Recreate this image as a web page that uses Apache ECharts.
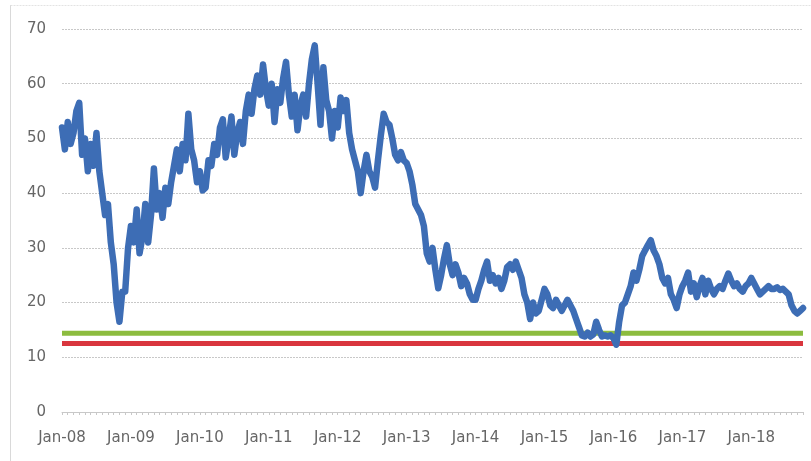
<!DOCTYPE html>
<html>
<head>
<meta charset="utf-8">
<script src="https://cdn.jsdelivr.net/npm/echarts@6/dist/echarts.min.js"></script>
<style>html,body{margin:0;padding:0;background:#fff;}#c{width:811px;height:461px;}</style>
</head>
<body>
<div id="c"></div>
<script>
// Semi-monthly observations, Jan 2008 .. Oct 2018 (two points per month)
const values2008 = [52,48, 53,49, 51,55, 56.5,47, 50,44, 49,45, 51,44, 40,36, 38,31, 27,20, 16.5,22, 22,30];
const values2009 = [34,31, 37,29, 32,38, 31,36, 44.5,37, 40,35.5, 41,38, 42,45, 48,44, 49,46, 54.5,48, 46,42];
const values2010 = [44,40.5, 41,46, 45,49, 47,52, 53.5,46.5, 50,54, 47,51, 53,49, 55,58, 54.5,59, 61.5,58, 63.5,59];
const values2011 = [56,60, 53,59, 56.5,61, 64,58, 54,58, 51.5,56, 58,54, 60,64.5, 67,60, 52.5,63, 57,55, 50,55];
const values2012 = [52,57.5, 55,57, 51,48, 46,44, 40,44, 47,44, 43,41, 46,50.5, 54.5,53, 52.5,50, 47,46, 47.5,46];
const values2013 = [45.5,44, 41.5,38, 37,36, 34,29, 27.5,30, 26,22.6, 25,28, 30.5,27, 25,27, 25.5,23, 24.5,23.5, 21.5,20.5];
const values2014 = [20.5,22.5, 24,26, 27.5,24, 25,23.5, 24.5,22.5, 24,26.5, 27,26, 27.5,26, 24.5,21.5, 20,17, 20,18, 18.5,20.5];
const values2015 = [22.5,21.5, 19.5,19, 20.5,19.5, 18.5,19.5, 20.5,19.5, 18.5,17, 15.5,14, 13.8,14.5, 13.8,14.2, 16.5,15, 13.8,14, 13.8,14];
const values2016 = [13.5,12.3, 16.5,19.5, 20,21.5, 23,25.5, 24,26, 28.5,29.5, 30.5,31.4, 29.5,28.5, 27,24.5, 23.5,24.5, 21.5,20.5, 19,21.5];
const values2017 = [23,24, 25.5,22, 23.5,21, 23,24.5, 21.5,24, 22.5,21.5, 22.5,23, 22.5,24, 25.3,24, 23,23.5, 22.5,22, 23,23.5];
const values2018 = [24.5,23.5, 22.5,21.5, 22,22.5, 23,22.5, 22.5,22.8, 22.3,22.5, 22,21.5, 19.5,18.5, 18,18.5, 19];

const priceValues = [].concat(values2008, values2009, values2010, values2011, values2012,
  values2013, values2014, values2015, values2016, values2017, values2018);

const greenLevel = 14.4;
const redLevel = 12.5;

const yearTickLabels = ['Jan-08','Jan-09','Jan-10','Jan-11','Jan-12','Jan-13','Jan-14','Jan-15','Jan-16','Jan-17','Jan-18'];

// category per semi-monthly observation
const categories = priceValues.map((v, i) => {
  const m = Math.floor(i / 2);
  const y = 2008 + Math.floor(m / 12);
  const mo = (m % 12) + 1;
  return y + '-' + String(mo).padStart(2, '0') + (i % 2 === 0 ? '-01' : '-16');
});

const chart = echarts.init(document.getElementById('c'), null, {renderer: 'canvas'});
chart.setOption({
  animation: false,
  backgroundColor: '#ffffff',
  grid: {left: 62, right: 8, top: 29, bottom: 49, containLabel: false},
  graphic: [
    {type: 'line', shape: {x1: 10.5, y1: 5, x2: 10.5, y2: 461}, style: {stroke: '#d9d9d9', lineWidth: 1}},
    {type: 'line', shape: {x1: 10.5, y1: 5.5, x2: 811, y2: 5.5}, style: {stroke: '#e3e3e3', lineWidth: 1, lineDash: [2, 1]}}
  ],
  xAxis: {
    type: 'category',
    data: categories,
    boundaryGap: false,
    axisLine: {show: true, lineStyle: {color: '#c8c8c8', width: 1}},
    axisTick: {show: true, alignWithLabel: true, length: 3, interval: (i) => i % 2 === 0, lineStyle: {color: '#c8c8c8'}},
    axisLabel: {
      interval: (i) => i % 24 === 0,
      formatter: (val, i) => yearTickLabels[i / 24] || '',
      color: '#666666',
      fontFamily: 'DejaVu Sans, sans-serif',
      fontSize: 15,
      margin: 19
    },
    splitLine: {show: false}
  },
  yAxis: {
    type: 'value',
    min: 0, max: 70, interval: 10,
    axisLine: {show: false},
    axisTick: {show: false},
    axisLabel: {color: '#666666', fontFamily: 'DejaVu Sans, sans-serif', fontSize: 15, margin: 16},
    splitLine: {show: true, lineStyle: {color: '#c8c8c8', type: [2, 1], width: 1}}
  },
  series: [
    {
      name: 'green', type: 'line', data: categories.map(() => greenLevel),
      symbol: 'none', lineStyle: {color: '#8cbc3f', width: 5}, silent: true, z: 2
    },
    {
      name: 'red', type: 'line', data: categories.map(() => redLevel),
      symbol: 'none', lineStyle: {color: '#d9363e', width: 5}, silent: true, z: 2
    },
    {
      name: 'price', type: 'line', data: priceValues,
      symbol: 'none', lineStyle: {color: '#3d6db5', width: 6.5, join: 'round', cap: 'round'}, z: 3
    }
  ]
});
</script>
</body>
</html>
